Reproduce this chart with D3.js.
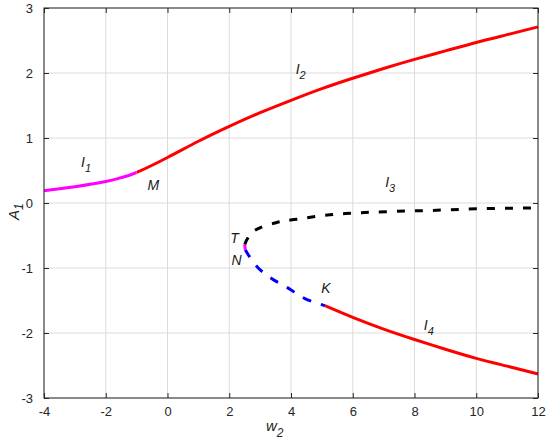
<!DOCTYPE html>
<html>
<head>
<meta charset="utf-8">
<script src="https://cdn.jsdelivr.net/npm/d3@7"></script>
<style>
  body { margin: 0; background: #fff; }
  text { font-family: "Liberation Sans", Arial, sans-serif; }
</style>
</head>
<body>
<div id="chart"></div>
<script>
// axis ticks
const x_ticks = [-4, -2, 0, 2, 4, 6, 8, 10, 12]
const y_ticks = [-3, -2, -1, 0, 1, 2, 3]

// branch I1 (magenta, solid)
const i1_x = [-4, -3, -2, -1.5, -1]
const i1_y = [0.19, 0.25, 0.33, 0.39, 0.47]

// branch I2 (red, solid)
const i2_x = [-1, 0, 1, 2, 3, 4, 5, 6, 7, 8, 9, 10, 11, 12]
const i2_y = [0.47, 0.70, 0.95, 1.18, 1.39, 1.58, 1.76, 1.92, 2.07, 2.21, 2.34, 2.47, 2.59, 2.71]

// point M, where I1 turns into I2
const m_x = -1

// branch I3 (black, dashed)
const i3_x = [2.5, 2.6, 2.83, 3.54, 4.18, 5.26, 6.23, 7.3, 8.5, 10, 12]
const i3_y = [-0.64, -0.54, -0.42, -0.30, -0.25, -0.18, -0.15, -0.13, -0.115, -0.09, -0.075]

// small magenta piece T-N
const tn_x = [2.5, 2.52]
const tn_y = [-0.64, -0.72]

// branch N-K (blue, dashed)
const nk_x = [2.52, 2.62, 2.94, 3.37, 3.91, 4.45, 5.1]
const nk_y = [-0.72, -0.80, -1.00, -1.16, -1.31, -1.47, -1.58]

// branch I4 (red, solid)
const i4_x = [5.1, 6, 7, 8, 9, 10, 11, 12]
const i4_y = [-1.58, -1.76, -1.94, -2.10, -2.25, -2.39, -2.51, -2.63]

const W = 550, H = 444
const margin = {top: 8, right: 12, bottom: 46, left: 44}
const width = W - margin.left - margin.right
const height = H - margin.top - margin.bottom

const root = d3.select("#chart")
    .append("svg")
        .attr("width", W)
        .attr("height", H)
const svg = root.append("g")
        .attr("transform", "translate(" + margin.left + "," + margin.top + ")")

const x = d3.scaleLinear().domain([-4, 12]).range([0, width])
const y = d3.scaleLinear().domain([-3, 3]).range([height, 0])

// clips splitting the upper branch at M
const defs = root.append("defs")
defs.append("clipPath")
        .attr("id", "clip-i1")
    .append("rect")
        .attr("x", -10).attr("y", -10)
        .attr("width", x(m_x) + 10).attr("height", height + 20)
defs.append("clipPath")
        .attr("id", "clip-i2")
    .append("rect")
        .attr("x", x(m_x)).attr("y", -10)
        .attr("width", width - x(m_x) + 10).attr("height", height + 20)

// grid
svg.append("g")
    .selectAll("line")
    .data(x_ticks)
    .enter().append("line")
        .attr("x1", d => x(d)).attr("x2", d => x(d))
        .attr("y1", 0).attr("y2", height)
        .attr("stroke", "#dcdcdc").attr("stroke-width", 1)
svg.append("g")
    .selectAll("line")
    .data(y_ticks)
    .enter().append("line")
        .attr("x1", 0).attr("x2", width)
        .attr("y1", d => y(d)).attr("y2", d => y(d))
        .attr("stroke", "#dcdcdc").attr("stroke-width", 1)

// axes
function style_axis(g) {
    g.select(".domain").remove()
    g.selectAll("line").attr("stroke", "#262626")
    g.selectAll("text")
        .attr("fill", "#262626")
        .style("font-size", "13px")
}
const fmt = d => String(d)

svg.append("g")
    .attr("transform", "translate(0," + height + ")")
    .call(d3.axisBottom(x).tickValues(x_ticks).tickSize(-5).tickPadding(9).tickFormat(fmt))
    .call(style_axis)
svg.append("g")
    .call(d3.axisTop(x).tickValues(x_ticks).tickSize(-5).tickFormat(""))
    .call(style_axis)
svg.append("g")
    .call(d3.axisLeft(y).tickValues(y_ticks).tickSize(-5).tickPadding(11).tickFormat(fmt))
    .call(style_axis)
svg.append("g")
    .attr("transform", "translate(" + width + ",0)")
    .call(d3.axisRight(y).tickValues(y_ticks).tickSize(-5).tickFormat(""))
    .call(style_axis)

// curves
const zip = (xs, ys) => xs.map((v, i) => [v, ys[i]])
const smooth_line = d3.line()
    .x(d => x(d[0]))
    .y(d => y(d[1]))
    .curve(d3.curveNatural)
const turn_line = d3.line()
    .x(d => x(d[0]))
    .y(d => y(d[1]))
    .curve(d3.curveCatmullRom.alpha(0.5))

function draw(pts, color, dash, gen) {
    return svg.append("path")
        .datum(pts)
        .attr("d", gen || smooth_line)
        .attr("fill", "none")
        .attr("stroke", color)
        .attr("stroke-width", 3)
        .attr("stroke-dasharray", dash || null)
}

// upper branch: one smooth curve, magenta up to M, red after
const upper = zip(i1_x, i1_y).concat(zip(i2_x, i2_y).slice(1))
draw(upper, "#ff0000").attr("clip-path", "url(#clip-i2)")
draw(upper, "#ff00ff").attr("clip-path", "url(#clip-i1)")

draw(zip(i3_x, i3_y), "#000000", "8,10", turn_line)
draw(zip(nk_x, nk_y), "#0000ff", "9,10", turn_line)
draw(zip(tn_x, tn_y), "#ff00ff")
draw(zip(i4_x, i4_y), "#ff0000")

// box
svg.append("rect")
    .attr("width", width).attr("height", height)
    .attr("fill", "none").attr("stroke", "#262626").attr("stroke-width", 1)

// labels on curves
function label(px, py, main, sub) {
    const t = svg.append("text")
        .attr("x", x(px)).attr("y", y(py))
        .style("font-size", "14px")
        .style("font-style", "italic")
        .attr("fill", "#1a1a1a")
        .text(main)
    if (sub) {
        t.append("tspan")
            .attr("dy", 5)
            .style("font-size", "11px")
            .text(sub)
    }
}
label(-2.8, 0.55, "I", "1")
label(-0.65, 0.2, "M")
label(4.15, 1.98, "I", "2")
label(7.05, 0.25, "I", "3")
label(2.03, -0.62, "T")
label(2.07, -0.95, "N")
label(4.98, -1.38, "K")
label(8.3, -1.95, "I", "4")

// axis titles
const xt = svg.append("text")
    .attr("x", x(4) - 25).attr("y", height + 33)
    .style("font-size", "15px").style("font-style", "italic")
    .attr("fill", "#262626")
    .text("w")
xt.append("tspan").attr("dy", 6).style("font-size", "12px").text("2")

const yt = svg.append("text")
    .attr("transform", "translate(" + (-25) + "," + (y(0) + 17) + ") rotate(-90)")
    .style("font-size", "15px").style("font-style", "italic")
    .attr("fill", "#262626")
    .text("A")
yt.append("tspan").attr("dy", 4).style("font-size", "12px").text("1")
</script>
</body>
</html>
